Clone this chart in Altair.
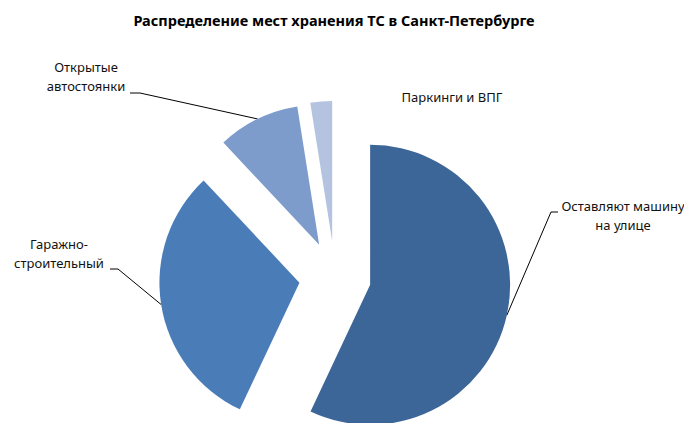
import altair as alt
import pandas as pd
import numpy as np

# ---- data ----
categories = ["Оставляют машину на улице", "Гаражно-строительный",
              "Открытые автостоянки", "Паркинги и ВПГ"]
shares = [57.0, 31.0, 9.5, 2.5]
label_lines = [["Оставляют машину", "на улице"], ["Гаражно-", "строительный"],
               ["Открытые", "автостоянки"], ["Паркинги и ВПГ"]]
title_text = "Распределение мест хранения ТС в Санкт-Петербурге"

# ---- style / layout ----
colors = ["#3C6697", "#4A7CB8", "#7D9CCB", "#B4C3E0"]
W, H = 676, 415
CX, CY = 327, 269          # pie centre (pixels in plot area)
R = 140                    # radius
EXPLODE = 36               # explode distance
FONT = "Noto Sans"
LINE_H = 19
label_anchor = [(615, 199), (51, 237), (78, 60), (444, 90)]   # centre of first text line
elbows = [[(550, 204), (543, 204)], [(102, 261), (110, 261)],
          [(122, 85), (132, 85)], None]

# ---- geometry derived from values ----
frac = np.array(shares) / sum(shares)
cum = np.cumsum(frac)
mid = (cum - frac / 2) * 2 * np.pi
sx, sy = np.sin(mid), -np.cos(mid)

pie = pd.DataFrame({
    "cat": categories,
    "val": shares,
    "idx": range(len(categories)),
    "cx": CX + EXPLODE * sx,
    "cy": CY + EXPLODE * sy,
})

rows = []
for i, el in enumerate(elbows):
    if el is None:
        continue
    pts = list(el) + [(CX + (R + EXPLODE) * sx[i], CY + (R + EXPLODE) * sy[i])]
    for k, (px, py) in enumerate(pts):
        rows.append({"leader": i, "k": k, "x": px, "y": py})
leaders = pd.DataFrame(rows)

trows = []
for i, lines in enumerate(label_lines):
    ax, ay = label_anchor[i]
    for j, t in enumerate(lines):
        trows.append({"t": t, "x": ax, "y": ay + j * LINE_H})
texts = pd.DataFrame(trows)

titledf = pd.DataFrame({"t": [title_text], "x": [326], "y": [14]})

X = lambda f: alt.X(f, scale=None, axis=None)
Y = lambda f: alt.Y(f, scale=None, axis=None)

lead = alt.Chart(leaders).mark_line(color="black", strokeWidth=1).encode(
    x=X("x:Q"), y=Y("y:Q"), detail="leader:N", order="k:Q")

arcs = alt.Chart(pie).mark_arc(radius=R).encode(
    theta=alt.Theta("val:Q", stack=True),
    order=alt.Order("idx:Q"),
    color=alt.Color("cat:N", scale=alt.Scale(domain=categories, range=colors), legend=None),
    x=X("cx:Q"), y=Y("cy:Q"),
)

lab = alt.Chart(texts).mark_text(font=FONT, fontSize=13, color="#111111",
                                 align="center", baseline="middle").encode(
    x=X("x:Q"), y=Y("y:Q"), text="t:N")

ttl = alt.Chart(titledf).mark_text(font=FONT, fontSize=14.5, fontWeight="bold",
                                   color="black", align="center", baseline="middle").encode(
    x=X("x:Q"), y=Y("y:Q"), text="t:N")

chart = alt.layer(lead, arcs, lab, ttl).properties(
    width=W, height=H, padding=0,
    autosize=alt.AutoSizeParams(type="none"),
    background="white",
).configure_view(stroke=None)

chart.save("out.html", embed_options={"renderer": "svg", "actions": False})
